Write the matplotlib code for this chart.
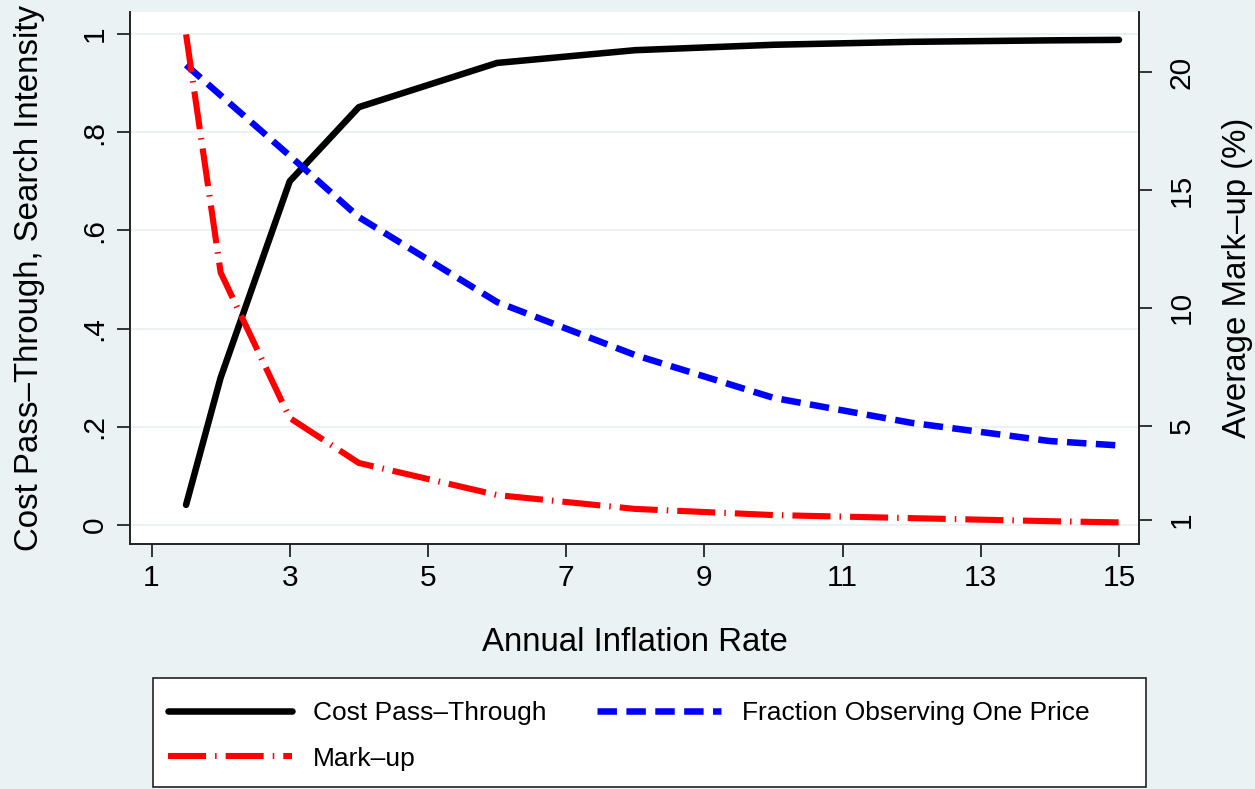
import matplotlib.pyplot as plt
from matplotlib.patches import Rectangle

plt.rcParams['font.family'] = ['Liberation Sans', 'DejaVu Sans']
plt.rcParams['lines.scale_dashes'] = False

# data
inflation = [1.5, 2, 3, 4, 6, 8, 10, 12, 14, 15]
pass_through = [0.041, 0.30, 0.70, 0.851, 0.941, 0.967, 0.978, 0.984, 0.987, 0.988]
one_price = [0.937, 0.875, 0.752, 0.627, 0.454, 0.346, 0.259, 0.208, 0.171, 0.162]
markup = [21.6, 11.5, 5.33, 3.42, 2.06, 1.47, 1.21, 1.08, 0.95, 0.90]

x_ticks = [1, 3, 5, 7, 9, 11, 13, 15]
left_ticks = [0, 0.2, 0.4, 0.6, 0.8, 1]
left_labels = ['0', '.2', '.4', '.6', '.8', '1']
right_ticks = [1, 5, 10, 15, 20]

bg = '#EAF2F3'
fig = plt.figure(figsize=(12.55, 7.89), dpi=100, facecolor=bg)
ax = fig.add_axes([0.1036, 0.3105, 0.8040, 0.6737])
ax2 = ax.twinx()

l1, = ax.plot(inflation, pass_through, color='black', lw=4.7,
              solid_capstyle='round', solid_joinstyle='round',
              label='Cost Pass\u2013Through')
l2, = ax.plot(inflation, one_price, color='#0000FF', lw=4.7,
              dashes=(14, 6.8), dash_capstyle='butt',
              label='Fraction Observing One Price')
l3, = ax2.plot(inflation, markup, color='#FF0000', lw=4.4,
               dashes=(27.4, 6.5, 1.1, 6.5), dash_capstyle='butt',
               label='Mark\u2013up')

ax.set_xlim(0.689, 15.29)
ax.set_ylim(-0.0387, 1.0438)
ax2.set_ylim(-0.018, 22.53)

ax.set_xticks(x_ticks)
ax.set_yticks(left_ticks)
ax.set_yticklabels(left_labels)
ax2.set_yticks(right_ticks)

ax.grid(True, axis='y', color=bg, lw=1.5)
ax.grid(False, axis='x')
ax.set_axisbelow(True)

for a in (ax, ax2):
    a.spines['top'].set_visible(False)
    for s in ('left', 'right', 'bottom'):
        a.spines[s].set_linewidth(1.2)
        a.spines[s].set_color('#222222')

ax.tick_params(axis='x', length=9.4, width=1.1, pad=5, labelsize=21.5)
ax.tick_params(axis='y', length=9.4, width=1.1, pad=6, labelsize=21.5,
               labelrotation=90)
ax2.tick_params(axis='y', length=9.4, width=1.1, pad=11, labelsize=21.5,
                labelrotation=90)
for t in ax.get_yticklabels() + ax2.get_yticklabels():
    t.set_va('center')

ax.set_xlabel('Annual Inflation Rate', fontsize=23.8, labelpad=25)
ax.set_ylabel('Cost Pass\u2013Through, Search Intensity', fontsize=23.8, labelpad=26)
ax2.set_ylabel('Average Mark\u2013up (%)', fontsize=23.8, labelpad=19)

# legend box drawn separately so the columns sit where Stata puts them
fig.patches.append(Rectangle((0.1219, 0.0025), 0.7912, 0.1381,
                             transform=fig.transFigure, facecolor='white',
                             edgecolor='#222222', lw=1.2, zorder=0))
leg = fig.legend(handles=[l1, l3, l2], ncol=2, loc='upper left',
                 bbox_to_anchor=(0.1339, 0.1116), borderaxespad=0,
                 borderpad=0, fontsize=19, handlelength=4.7,
                 handletextpad=0.8, labelspacing=0.82, columnspacing=1.90,
                 frameon=False)

fig.savefig('out.png', dpi=100, facecolor=bg)
